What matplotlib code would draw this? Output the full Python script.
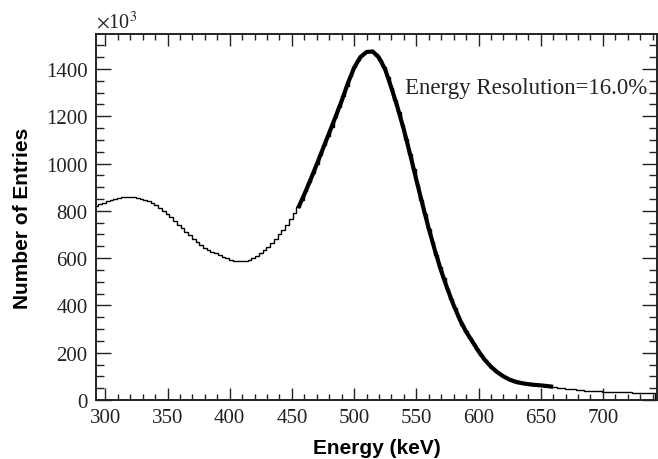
import numpy as np
import matplotlib
matplotlib.use('Agg')
import matplotlib.pyplot as plt
from matplotlib.ticker import MultipleLocator

# histogram: bin centres (keV), 3 keV wide, contents in units of 10^3 entries
bin_centres = list(range(293, 741, 3))
counts = [
    820, 828, 835, 841, 846, 851, 855, 858, 860, 860,
    858, 855, 851, 846, 840, 832, 823, 812, 800, 787,
    773, 758, 742, 727, 712, 697, 683, 670, 657, 645,
    635, 627, 620, 613, 606, 599, 594, 590, 587, 587,
    589, 594, 601, 610, 621, 634, 649, 665, 682, 700,
    719, 740, 764, 789, 815, 848, 883, 920, 958, 997,
    1037, 1077, 1116, 1155, 1195, 1240, 1285, 1330, 1372, 1408,
    1436, 1456, 1469, 1475, 1473, 1462, 1440, 1410, 1366, 1318,
    1270, 1218, 1162, 1102, 1040, 976, 911, 847, 785, 725,
    668, 614, 563, 515, 470, 428, 388, 350, 318, 290,
    264, 240, 214, 190, 170, 152, 136, 122, 110, 100,
    91, 84, 78, 74, 71, 68, 66, 64, 63, 62,
    60, 58, 56, 54, 52, 50, 48, 46, 45, 43,
    42, 40, 39, 38, 37, 36, 35, 35, 34, 34,
    33, 33, 32, 32, 31, 31, 31, 30, 30, 30,
]

# fitted peak function
fit_energy = list(range(455, 661, 5))
fit_counts = [
    812, 870, 932, 997, 1064, 1130, 1197, 1265, 1340, 1405,
    1450, 1472, 1474, 1448, 1398, 1320, 1236, 1143, 1040, 932,
    827, 725, 632, 546, 470, 401, 340, 289, 248, 206,
    170, 141, 118, 100, 86, 77, 71, 67, 64, 62,
    59, 56,
]

resolution_text = 'Energy Resolution=16.0%'

plt.rcParams['mathtext.fontset'] = 'stix'
serif = 'Liberation Serif'
sans = 'Liberation Sans'

fig = plt.figure(figsize=(6.58, 4.60), dpi=100)
ax = fig.add_axes([96 / 658, 59 / 460, 561 / 658, 366 / 460])

centres = np.array(bin_centres, dtype=float)
edges = np.append(centres - 1.5, centres[-1] + 1.5)
ax.stairs(counts, edges, color='black', linewidth=1.0)
ax.plot(fit_energy, fit_counts, color='black', linewidth=3.0, solid_capstyle='butt')

ax.set_xlim(292.5, 743.5)
ax.set_ylim(0, 1548)

ax.xaxis.set_major_locator(MultipleLocator(50))
ax.xaxis.set_minor_locator(MultipleLocator(10))
ax.yaxis.set_major_locator(MultipleLocator(200))
ax.yaxis.set_minor_locator(MultipleLocator(50))
ax.tick_params(which='both', direction='in', top=True, right=True, colors='#222222')
ax.tick_params(axis='x', which='major', length=8.5, width=1.0, pad=6)
ax.tick_params(axis='x', which='minor', length=4.5, width=1.0)
ax.tick_params(axis='y', which='major', length=11, width=1.0, pad=6)
ax.tick_params(axis='y', which='minor', length=5.5, width=1.0)
for lab in ax.get_xticklabels() + ax.get_yticklabels():
    lab.set_fontfamily(serif)
    lab.set_fontsize(15)
    lab.set_color('#222222')
for sp in ax.spines.values():
    sp.set_linewidth(1.4)
    sp.set_color('#222222')

ax.set_xlabel('Energy (keV)', fontfamily=sans, fontweight='bold', fontsize=15, labelpad=8)
ax.set_ylabel('Number of Entries', fontfamily=sans, fontweight='bold', fontsize=15, labelpad=10)

ax.text(0.0, 1.005, r'$\times$10$^3$', transform=ax.transAxes, fontfamily=serif,
        fontsize=14.5, ha='left', va='bottom', color='#222222')
ax.text(541, 1298, resolution_text, fontfamily=serif, fontsize=16.5,
        ha='left', va='baseline', color='#222222')

fig.savefig('out.png', dpi=100)
